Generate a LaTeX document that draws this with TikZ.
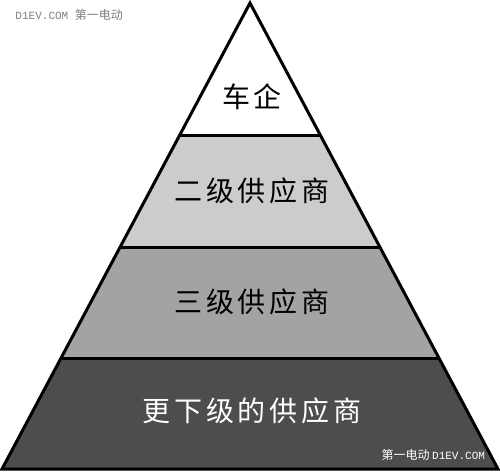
\documentclass[tikz,border=0pt]{standalone}
\usepackage{fontspec}
\usetikzlibrary{calc}
\newfontfamily\cjk[LetterSpace=14]{Noto Sans CJK SC}
\newfontfamily\markcjk{Noto Sans CJK SC}
\setmonofont{Liberation Mono}
\definecolor{tierlight}{HTML}{CCCCCC}
\definecolor{tiermid}{HTML}{A3A3A3}
\definecolor{tierdark}{HTML}{4D4D4D}
\definecolor{markgray}{HTML}{808080}
\begin{document}
\begin{tikzpicture}[x=1pt, y=-1pt, line width=3pt, line join=miter,
  level label/.style={font=\cjk\fontsize{28}{28}\selectfont, inner sep=0pt},
  mark label/.style={inner sep=0pt, anchor=west}]
\useasboundingbox[fill=white] (0,0) rectangle (500,472);
% corners of the pyramid
\coordinate (apex) at (250,3);
\coordinate (bl) at (2,469);
\coordinate (br) at (498,469);
\coordinate (l1) at ($(apex)!0.2833!(bl)$);
\coordinate (r1) at ($(apex)!0.2833!(br)$);
\coordinate (l2) at ($(apex)!0.5236!(bl)$);
\coordinate (r2) at ($(apex)!0.5236!(br)$);
\coordinate (l3) at ($(apex)!0.7639!(bl)$);
\coordinate (r3) at ($(apex)!0.7639!(br)$);
% tiers
\fill[tierlight] (l1) -- (r1) -- (r2) -- (l2) -- cycle;
\fill[tiermid] (l2) -- (r2) -- (r3) -- (l3) -- cycle;
\fill[tierdark] (l3) -- (r3) -- (br) -- (bl) -- cycle;
\draw (apex) -- (bl) -- (br) -- cycle;
\draw (l1) -- (r1);
\draw (l2) -- (r2);
\draw (l3) -- (r3);
\begin{scope}[every node/.style={level label}]
\node (oem) at (252,97) {车企};
\node (tier2) at (252,191) {二级供应商};
\node (tier3) at (252,302) {三级供应商};
\node[text=white] (lower) at (252,411) {更下级的供应商};
\end{scope}
% watermarks
\node[mark label, text=markgray] (marktop) at (14,15)
  {\fontsize{11}{11}\selectfont\ttfamily D1EV.COM \markcjk\fontsize{12}{12}\selectfont 第一电动};
\node[mark label, text=white] (markbottom) at (380,455)
  {\markcjk\fontsize{12}{12}\selectfont 第一电动 \ttfamily\fontsize{11}{11}\selectfont D1EV.COM};
\end{tikzpicture}
\end{document}
